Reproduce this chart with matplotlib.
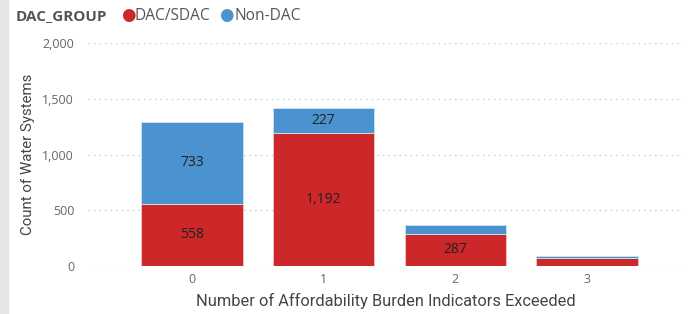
import matplotlib.pyplot as plt
from matplotlib.patches import Rectangle

# data
categories = ['0', '1', '2', '3']
dac_sdac = [558, 1192, 287, 75]
non_dac = [733, 227, 85, 15]
shown_dac = [True, True, True, False]
shown_non = [True, True, False, False]

red = '#CC2729'
blue = '#4B93CE'
grey_text = '#666666'

plt.rcParams['font.family'] = ['Open Sans', 'DejaVu Sans']

fig = plt.figure(figsize=(6.88, 3.14), dpi=100)
ax = fig.add_axes([88 / 688, 48 / 314, 595 / 688, 223 / 314])

# grey strip on the left side of the visual
fig.patches.append(Rectangle((0, 0), 8 / 688, 1, transform=fig.transFigure,
                             color='#e6e6e6', zorder=0))

x = range(len(categories))
ax.bar(x, dac_sdac, width=0.77, color=red, edgecolor='#f0c8c8', linewidth=0.6, zorder=3)
ax.bar(x, non_dac, width=0.77, bottom=dac_sdac, color=blue,
       edgecolor='#cfe2f2', linewidth=0.6, zorder=3)

for i in x:
    if shown_dac[i]:
        ax.text(i, dac_sdac[i] / 2, f'{dac_sdac[i]:,}', ha='center', va='center',
                fontsize=10, color='#222222', zorder=4)
    if shown_non[i]:
        ax.text(i, dac_sdac[i] + non_dac[i] / 2, f'{non_dac[i]:,}', ha='center',
                va='center', fontsize=10, color='#222222', zorder=4)

ax.set_xlim(-0.79, 3.73)
ax.set_ylim(0, 2000)
ax.set_yticks([0, 500, 1000, 1500, 2000])
ax.set_yticklabels(['0', '500', '1,000', '1,500', '2,000'])
ax.set_xticks(list(x))
ax.set_xticklabels(categories)
ax.yaxis.grid(True, color='#c8c8c8', linestyle=(0, (1, 3)), linewidth=1)
ax.set_axisbelow(True)
for s in ax.spines.values():
    s.set_visible(False)
ax.tick_params(length=0, colors=grey_text, labelsize=9)
ax.tick_params(axis='y', pad=10)
ax.tick_params(axis='x', pad=5)

ax.set_xlabel('Number of Affordability Burden Indicators Exceeded',
              fontsize=11.8, color='#444444', family='Roboto', labelpad=5)
ax.set_ylabel('Count of Water Systems', fontsize=10.8, color='#444444',
              family='Roboto', labelpad=5)

# legend line at the top
fig.text(16 / 688, 1 - 16 / 314, 'DAC_GROUP', fontsize=11, fontweight='bold',
         color='#555555', va='center')
fig.text(128 / 688, 1 - 16 / 314, '\u25cf', fontsize=12, color=red, va='center', ha='center')
fig.text(135 / 688, 1 - 16 / 314, 'DAC/SDAC', fontsize=11.2, color='#555555', va='center')
fig.text(226 / 688, 1 - 16 / 314, '\u25cf', fontsize=12, color=blue, va='center', ha='center')
fig.text(234 / 688, 1 - 16 / 314, 'Non-DAC', fontsize=11.2, color='#555555', va='center')

fig.savefig('out.png', dpi=100)
